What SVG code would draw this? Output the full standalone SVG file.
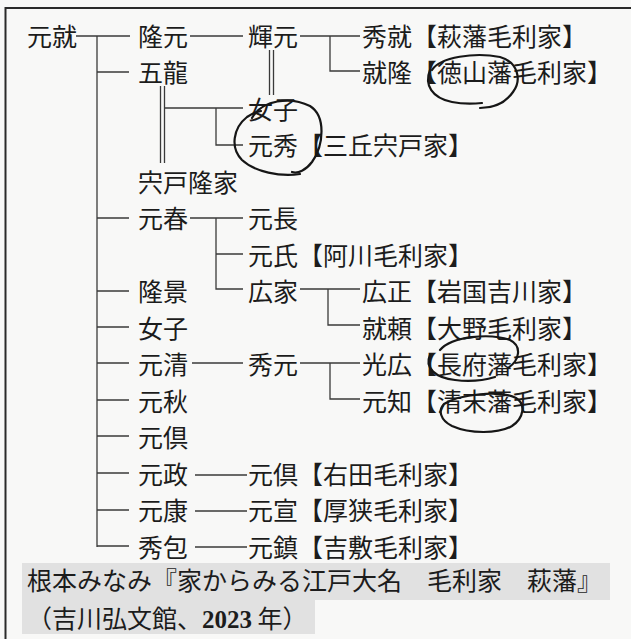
<svg xmlns="http://www.w3.org/2000/svg" width="631" height="639" viewBox="0 0 631 639">
<style>
text{font-family:"Noto Sans CJK JP","Noto Sans CJK SC",sans-serif;font-size:25px;fill:#1c1c1c}
.num{font-family:"Liberation Serif",serif;font-weight:bold}
#connectors path{fill:none;stroke:#3a3a3a;stroke-width:1.3}
#marks path{fill:none;stroke:#161616;stroke-width:2.2;stroke-linecap:round}
</style>
<rect width="631" height="639" fill="#f8f8f7"/>
<rect x="22" y="563" width="588" height="37" fill="#e1e1e1"/>
<rect x="22" y="600" width="293" height="34" fill="#e1e1e1"/>
<path d="M5.5,639 V8 H631" fill="none" stroke="#2a2a2a" stroke-width="2"/>
<g id="connectors">
<path d="M76,36 H130"/>
<path d="M97,36 V547"/>
<path d="M97,72 H129 M97,218 H129 M97,291 H129 M97,327 H129 M97,363 H129 M97,400 H129 M97,436 H129 M97,473 H129 M97,510 H129 M97,546 H129"/>
<path d="M190,36 H243"/>
<path d="M300,36 H360 M330,36 V71 H360"/>
<path d="M269.5,50 V95 M273.5,50 V95"/>
<path d="M160.5,86 V163 M164.5,86 V163"/>
<path d="M165,108 H243 M216,108 V145 H243"/>
<path d="M190,218 H243 M216,218 V289 H243 M216,254 H243"/>
<path d="M300,289 H360 M328,289 V325 H360"/>
<path d="M192,363 H243"/>
<path d="M300,363 H360 M330,363 V399 H360"/>
<path d="M195,475 H247 M195,511 H247 M195,547 H247"/>
</g>
<g id="n-motonari"><text x="27" y="45.5">元就</text></g>
<g id="n-takamoto"><text x="138" y="45.5">隆元</text></g>
<g id="n-goryu"><text x="138" y="82">五龍</text></g>
<g id="n-shishido-takaie"><text x="138" y="191.5">宍戸隆家</text></g>
<g id="n-motoharu"><text x="138" y="228">元春</text></g>
<g id="n-takakage"><text x="138" y="301">隆景</text></g>
<g id="n-joshi2"><text x="138" y="337.5">女子</text></g>
<g id="n-motokiyo"><text x="138" y="374">元清</text></g>
<g id="n-motoaki"><text x="138" y="410.5">元秋</text></g>
<g id="n-motomochi"><text x="138" y="447">元倶</text></g>
<g id="n-motomasa"><text x="138" y="483.5">元政</text></g>
<g id="n-motoyasu"><text x="138" y="520">元康</text></g>
<g id="n-hidekane"><text x="138" y="556.5">秀包</text></g>
<g id="n-terumoto"><text x="248" y="45.5">輝元</text></g>
<g id="n-joshi1"><text x="248" y="118.5">女子</text></g>
<g id="n-motohide"><text x="248" y="155">元秀【三丘宍戸家】</text></g>
<g id="n-motonaga"><text x="248" y="228">元長</text></g>
<g id="n-motouji"><text x="248" y="264.5">元氏【阿川毛利家】</text></g>
<g id="n-hiroie"><text x="248" y="301">広家</text></g>
<g id="n-hidemoto"><text x="248" y="374">秀元</text></g>
<g id="n-motomochi2"><text x="248" y="483.5">元倶【右田毛利家】</text></g>
<g id="n-motonobu"><text x="248" y="520">元宣【厚狭毛利家】</text></g>
<g id="n-motoshige"><text x="248" y="556.5">元鎮【吉敷毛利家】</text></g>
<g id="n-hidenari"><text x="362" y="45.5">秀就【萩藩毛利家】</text></g>
<g id="n-naritaka"><text x="362" y="82">就隆【徳山藩毛利家】</text></g>
<g id="n-hiromasa"><text x="362" y="301">広正【岩国吉川家】</text></g>
<g id="n-naritoshi"><text x="362" y="337.5">就頼【大野毛利家】</text></g>
<g id="n-mitsuhiro"><text x="362" y="374">光広【長府藩毛利家】</text></g>
<g id="n-mototomo"><text x="362" y="410.5">元知【清末藩毛利家】</text></g>
<g id="marks">
<path d="M252,118 C262,100 290,96 310,106 C326,116 324,145 312,162 C306,170 298,174 292,172"/>
<path d="M300,174 C280,177 255,172 242,160 C230,148 233,128 247,117 C251,114 256,112 261,111"/>
<path d="M432,70 C440,57 475,52 500,57 C518,62 522,80 513,92 C506,102 495,108 480,108"/>
<path d="M430,70 C424,85 432,98 452,102 C462,104 472,104 482,103"/>
<path d="M440,350 C452,336 490,333 510,340 C522,346 520,360 508,368"/>
<path d="M430,355 C424,368 436,378 455,380 C470,382 485,380 495,377"/>
<path d="M444,404 C460,394 500,390 516,398 C526,404 524,418 512,426 C498,434 470,434 452,426 C440,420 438,410 444,404"/>
</g>
<g id="caption">
<text x="27" y="590">根本みなみ『家からみる江戸大名　毛利家　萩藩』</text>
<text x="27" y="628">（吉川弘文館、<tspan class="num">2023</tspan> 年）</text>
</g>
</svg>
